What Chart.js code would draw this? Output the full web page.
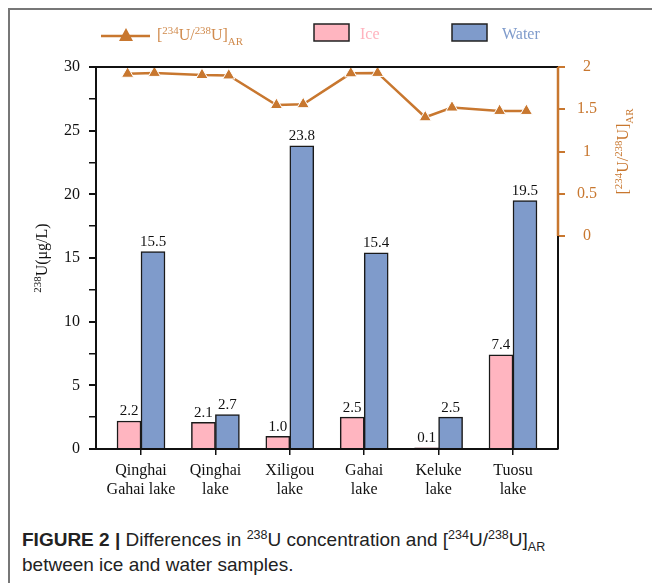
<!DOCTYPE html>
<html>
<head>
<meta charset="utf-8">
<script src="https://cdn.jsdelivr.net/npm/chart.js@4"></script>
<style>
  body { margin: 0; background: #fff; }
  #frame { position: absolute; left: 8px; top: 8px; width: 660px; height: 600px;
           border-left: 2px solid #777; border-top: 2px solid #777; }
  #wrap { position: absolute; left: 0; top: 0; width: 652px; height: 505px; }
  #caption { position: absolute; left: 22px; top: 527px; font-family: "Liberation Sans", Arial, sans-serif;
             font-size: 19px; line-height: 25px; color: #222; }
  #caption sup, #caption sub { font-size: 12.5px; line-height: 0; }
</style>
</head>
<body>
<div id="frame"></div>
<div id="wrap"><canvas id="grafica" width="652" height="505"></canvas></div>
<div id="caption"><b>FIGURE 2 |</b> Differences in <sup>238</sup>U concentration and [<sup>234</sup>U/<sup>238</sup>U]<sub>AR</sub><br>between ice and water samples.</div>
<script>
const categorias = [["Qinghai", "Gahai lake"], ["Qinghai", "lake"], ["Xiligou", "lake"], ["Gahai", "lake"], ["Keluke", "lake"], ["Tuosu", "lake"]];
const uHielo = [2.2, 2.1, 1.0, 2.5, 0.1, 7.4];
const uAgua = [15.5, 2.7, 23.8, 15.4, 2.5, 19.5];
// [234U/238U]AR read at the ice bar and the water bar of each lake
const ratioHielo = [1.92, 1.905, 1.55, 1.925, 1.405, 1.48];
const ratioAgua = [1.93, 1.90, 1.56, 1.93, 1.52, 1.48];
const ticksIzq = [0, 5, 10, 15, 20, 25, 30];
const ticksDer = [0, 0.5, 1, 1.5, 2];

const NARANJA = "#C8772F";
const ROSA = "#FFB5C0";
const AZUL = "#7F9BCB";
const SERIF = "'Liberation Serif', 'Times New Roman', serif";
const desfase = 0.18; // line points sit over the middle of each bar

const puntosRatio = [];
ratioHielo.forEach((r, i) => {
  puntosRatio.push({ x: i - desfase, y: r });
  puntosRatio.push({ x: i + desfase, y: ratioAgua[i] });
});

// draws text with superscript / subscript parts, centred on x
function textoRico(ctx, partes, x, y, tam) {
  let ancho = 0;
  partes.forEach(p => {
    ctx.font = (p.sup || p.sub ? tam * 0.68 : tam) + "px " + SERIF;
    p.w = ctx.measureText(p.t).width;
    ancho += p.w;
  });
  let cx = x - ancho / 2;
  ctx.textAlign = "left";
  ctx.textBaseline = "alphabetic";
  partes.forEach(p => {
    ctx.font = (p.sup || p.sub ? tam * 0.68 : tam) + "px " + SERIF;
    let dy = p.sup ? -tam * 0.38 : (p.sub ? tam * 0.3 : 0);
    ctx.fillText(p.t, cx, y + dy);
    cx += p.w;
  });
  return ancho;
}

const tituloRatio = [{ t: "[" }, { t: "234", sup: true }, { t: "U/" }, { t: "238", sup: true }, { t: "U]" }, { t: "AR", sub: true }];
const tituloU = [{ t: "238", sup: true }, { t: "U(\u03bcg/L)" }];

const extras = {
  id: "extras",
  afterDraw(chart) {
    const ctx = chart.ctx;
    const a = chart.chartArea;
    const y2 = chart.scales.y2;
    const cero = y2.getPixelForValue(0);
    ctx.save();
    ctx.lineWidth = 2;
    ctx.strokeStyle = "#111";
    ctx.beginPath();
    ctx.moveTo(a.left, a.top);
    ctx.lineTo(a.right, a.top);
    ctx.moveTo(a.right, a.bottom);
    ctx.lineTo(a.right, cero);
    ctx.stroke();
    ctx.strokeStyle = NARANJA;
    ctx.lineWidth = 2.5;
    ctx.beginPath();
    ctx.moveTo(a.right, cero);
    ctx.lineTo(a.right, a.top);
    ctx.stroke();

    // bar value labels
    ctx.fillStyle = "#111";
    ctx.font = "15px " + SERIF;
    ctx.textAlign = "center";
    ctx.textBaseline = "bottom";
    [0, 1].forEach(d => {
      chart.getDatasetMeta(d).data.forEach((el, i) => {
        const v = chart.data.datasets[d].data[i].y;
        ctx.fillText(v.toFixed(1), el.x, el.y - 2);
      });
    });

    // axis titles
    ctx.fillStyle = "#111";
    ctx.save();
    ctx.translate(47, (a.top + a.bottom) / 2);
    ctx.rotate(-Math.PI / 2);
    textoRico(ctx, tituloU, 0, 0, 16);
    ctx.restore();
    ctx.fillStyle = NARANJA;
    ctx.save();
    ctx.translate(628, (a.top + cero) / 2);
    ctx.rotate(-Math.PI / 2);
    textoRico(ctx, tituloRatio, 0, 0, 16);
    ctx.restore();

    // legend
    ctx.strokeStyle = NARANJA;
    ctx.lineWidth = 2.5;
    ctx.beginPath();
    ctx.moveTo(101, 36);
    ctx.lineTo(150, 36);
    ctx.stroke();
    ctx.fillStyle = NARANJA;
    ctx.beginPath();
    ctx.moveTo(126, 28);
    ctx.lineTo(133, 41);
    ctx.lineTo(119, 41);
    ctx.closePath();
    ctx.fill();
    ctx.fillStyle = "#D08A4C";
    textoRico(ctx, tituloRatio, 200, 40, 16);

    ctx.lineWidth = 1.5;
    ctx.strokeStyle = "#222";
    ctx.fillStyle = ROSA;
    ctx.fillRect(314, 24, 35, 17);
    ctx.strokeRect(314, 24, 35, 17);
    ctx.fillStyle = AZUL;
    ctx.fillRect(452, 24, 35, 17);
    ctx.strokeRect(452, 24, 35, 17);
    ctx.font = "16px " + SERIF;
    ctx.textAlign = "left";
    ctx.textBaseline = "alphabetic";
    ctx.fillStyle = "#FFB3BE";
    ctx.fillText("Ice", 360, 39);
    ctx.fillStyle = AZUL;
    ctx.fillText("Water", 502, 39);
    ctx.restore();
  }
};

new Chart(document.getElementById("grafica"), {
  type: "bar",
  data: {
    datasets: [
      {
        label: "Ice",
        data: uHielo.map((v, i) => ({ x: i, y: v })),
        backgroundColor: ROSA,
        borderColor: "#1a1a1a",
        borderWidth: 1.5,
        barThickness: 24,
        order: 1
      },
      {
        label: "Water",
        data: uAgua.map((v, i) => ({ x: i, y: v })),
        backgroundColor: AZUL,
        borderColor: "#1a1a1a",
        borderWidth: 1.5,
        barThickness: 24,
        order: 1
      },
      {
        type: "line",
        label: "[234U/238U]AR",
        data: puntosRatio,
        yAxisID: "y2",
        borderColor: NARANJA,
        borderWidth: 2.5,
        pointStyle: "triangle",
        pointRadius: 7,
        pointBackgroundColor: NARANJA,
        pointBorderColor: "#fff",
        pointBorderWidth: 1,
        order: 0
      }
    ]
  },
  options: {
    responsive: false,
    animation: false,
    layout: { padding: { top: 67, left: 0, right: 0, bottom: 0 } },
    plugins: { legend: { display: false }, tooltip: { enabled: false } },
    scales: {
      x: {
        type: "linear",
        offset: false,
        min: -0.605,
        max: 5.605,
        afterFit: s => { s.height = 56; },
        afterBuildTicks: s => { s.ticks = categorias.map((_, i) => ({ value: i })); },
        ticks: {
          callback: v => categorias[v],
          font: { family: SERIF, size: 16, lineHeight: 1.2 },
          color: "#111",
          padding: 6,
          maxRotation: 0,
          autoSkip: false
        },
        grid: { offset: false, drawOnChartArea: false, drawTicks: true, tickLength: 6, color: "#111", lineWidth: 1.5 },
        border: { display: true, color: "#111", width: 2 }
      },
      y: {
        position: "left",
        min: 0,
        max: 30,
        afterFit: s => { s.width = 96; },
        ticks: {
          stepSize: 2.5,
          callback: v => ticksIzq.includes(v) ? v : "",
          font: { family: SERIF, size: 16 },
          color: "#111",
          padding: 9
        },
        grid: {
          drawOnChartArea: false, tickLength: 7, color: "#111",
          lineWidth: c => ticksIzq.includes(c.tick.value) ? 2 : 1.5
        },
        border: { display: true, color: "#111", width: 2 }
      },
      y2: {
        position: "right",
        min: -2.52,
        max: 2,
        afterFit: s => { s.width = 94; },
        afterBuildTicks: s => { s.ticks = ticksDer.map(v => ({ value: v })); },
        ticks: {
          callback: v => v,
          font: { family: SERIF, size: 16 },
          color: NARANJA,
          padding: 12,
          crossAlign: "center"
        },
        grid: { drawOnChartArea: false, tickLength: 7, color: NARANJA, lineWidth: 2 },
        border: { display: false }
      }
    }
  },
  plugins: [extras]
});
</script>
</body>
</html>
